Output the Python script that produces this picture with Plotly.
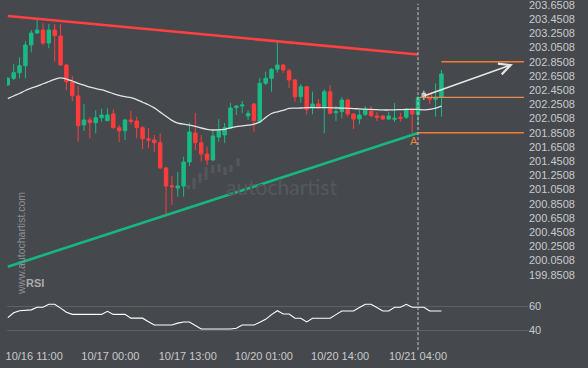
import plotly.graph_objects as go

# ---------------- data ----------------
open_ = [202.523, 202.617, 202.696, 202.794, 203.086, 203.255, 203.297, 203.114, 203.297, 203.213,
         202.804, 202.565, 202.368, 201.959, 202.030, 201.992, 202.062, 202.020, 202.114, 201.921,
         201.879, 202.030, 202.016, 201.921, 201.766, 201.748, 201.710, 201.354, 201.104, 201.072,
         201.100, 201.438, 201.847, 201.710, 201.551, 201.466, 201.790, 201.818, 201.917, 202.203,
         202.227, 202.086, 202.255, 202.006, 202.547, 202.617, 202.744, 202.804, 202.724, 202.593,
         202.358, 202.499, 202.203, 202.255, 202.203, 202.428, 202.132, 202.147, 202.311, 202.114,
         202.044, 202.110, 202.156, 202.086, 202.086, 202.044, 202.039, 202.068, 202.068, 202.180,
         202.110, 202.349, 202.392, 202.321, 202.349]
high = [202.635, 202.814, 202.913, 203.142, 203.297, 203.438, 203.392, 203.382, 203.382, 203.382,
        202.818, 202.649, 202.509, 202.255, 202.072, 202.170, 202.189, 202.194, 202.180, 201.959,
        202.044, 202.156, 202.076, 201.945, 201.913, 201.818, 201.842, 201.368, 201.241, 201.297,
        201.513, 201.994, 202.128, 201.818, 201.654, 201.889, 202.044, 201.987, 202.269, 202.241,
        202.297, 202.170, 202.269, 202.621, 202.710, 202.762, 203.118, 202.818, 202.748, 202.607,
        202.537, 202.509, 202.428, 202.325, 202.462, 202.523, 202.227, 202.349, 202.325, 202.128,
        202.170, 202.227, 202.227, 202.142, 202.100, 202.147, 202.269, 202.132, 202.199, 202.199,
        202.368, 202.442, 202.410, 202.547, 202.734]
low = [202.509, 202.593, 202.617, 202.617, 202.983, 203.241, 203.086, 203.040, 202.851, 202.790,
       202.452, 202.297, 201.724, 201.875, 201.772, 201.842, 202.006, 202.016, 201.910, 201.716,
       201.748, 201.969, 201.772, 201.621, 201.631, 201.583, 201.339, 200.706, 200.832, 200.949,
       200.949, 201.382, 201.607, 201.442, 201.396, 201.452, 201.720, 201.706, 201.903, 202.100,
       202.128, 202.030, 201.865, 201.987, 202.523, 202.428, 202.696, 202.692, 202.480, 202.287,
       202.273, 202.110, 202.110, 202.185, 201.842, 202.114, 202.016, 202.054, 202.076, 201.903,
       201.969, 202.086, 202.072, 202.016, 202.030, 202.030, 202.001, 202.006, 202.044, 201.842,
       201.959, 202.311, 202.255, 202.076, 202.076]
close = [202.617, 202.696, 202.794, 203.086, 203.255, 203.297, 203.114, 203.297, 203.217, 202.804,
         202.569, 202.372, 201.949, 202.030, 201.992, 202.062, 202.100, 202.100, 201.921, 201.879,
         202.030, 202.011, 201.921, 201.766, 201.748, 201.710, 201.354, 201.100, 201.090, 201.100,
         201.438, 201.861, 201.710, 201.551, 201.466, 201.804, 201.889, 201.921, 202.199, 202.227,
         202.241, 202.124, 202.020, 202.547, 202.617, 202.744, 202.804, 202.734, 202.593, 202.358,
         202.499, 202.180, 202.255, 202.203, 202.428, 202.124, 202.147, 202.311, 202.114, 202.044,
         202.100, 202.170, 202.090, 202.068, 202.044, 202.086, 202.054, 202.054, 202.180, 202.114,
         202.344, 202.406, 202.321, 202.349, 202.678]
ma = [202.330, 202.368, 202.403, 202.445, 202.478, 202.506, 202.540, 202.572, 202.603, 202.624,
      202.607, 202.579, 202.547, 202.520, 202.493, 202.473, 202.456, 202.431, 202.402, 202.378,
      202.359, 202.345, 202.318, 202.280, 202.244, 202.200, 202.141, 202.082, 202.025, 201.986,
      201.973, 201.959, 201.940, 201.917, 201.899, 201.889, 201.892, 201.899, 201.920, 201.937,
      201.947, 201.956, 201.973, 202.000, 202.065, 202.121, 202.145, 202.166, 202.192, 202.196,
      202.199, 202.203, 202.203, 202.203, 202.203, 202.203, 202.200, 202.197, 202.194, 202.190,
      202.186, 202.182, 202.179, 202.175, 202.171, 202.171, 202.173, 202.176, 202.179, 202.180,
      202.180, 202.173, 202.178, 202.196, 202.225]
rsi = [50.4, 54.5, 56.3, 56.5, 57.0, 59.2, 59.2, 61.7, 61.7, 58.5,
       55.0, 53.2, 53.2, 53.2, 53.2, 53.2, 53.2, 55.8, 53.2, 53.2,
       53.2, 50.0, 50.0, 50.0, 47.0, 44.2, 44.2, 44.2, 44.2, 45.8,
       46.8, 46.8, 44.0, 40.8, 40.8, 40.8, 40.8, 40.8, 40.8, 41.5,
       44.2, 44.2, 44.2, 46.5, 49.0, 53.0, 56.3, 53.5, 53.5, 49.9,
       49.9, 46.8, 49.9, 49.9, 49.9, 49.9, 53.0, 56.0, 56.0, 56.0,
       59.0, 61.7, 61.7, 59.0, 56.0, 56.0, 59.2, 59.2, 61.7, 59.2,
       59.2, 59.2, 56.0, 56.0, 56.0]

hollow_idx = [71, 72]           # candles drawn as outlines after the pattern
pattern_idx = 70                # candle where the pattern completes (dashed line)
a_idx = 69                      # point "A"
projection_end = 88.1           # end of the forecast levels (candle units)

x_tick_pos = [4.5, 17.5, 30.7, 43.7, 56.7, 70]
x_tick_text = ["10/16 11:00", "10/17 00:00", "10/17 13:00", "10/20 01:00", "10/20 14:00", "10/21 04:00"]
price_ticks = [199.8508, 200.0508, 200.2508, 200.4508, 200.6508, 200.8508, 201.0508, 201.2508,
               201.4508, 201.6508, 201.8508, 202.0508, 202.2508, 202.4508, 202.6508, 202.8508,
               203.0508, 203.2508, 203.4508, 203.6508]
rsi_ticks = [40, 60]

trend_x = [0, 70]
resistance = [203.494, 202.952]
support = [199.964, 201.845]

target_level = 202.8508
entry_level = 202.349
stop_level = 201.8508
forecast_x = [70.6, 86.2]
forecast_y = [202.357, 202.814]

# ---------------- styling ----------------
BG = "#45484d"
GREEN = "#19bb84"
RED = "#ff3c3c"
ORANGE = "#f57b2e"
TXT = "#c9cacc"
FONT = "Liberation Sans, Arial, sans-serif"

idx = list(range(len(open_)))
solid = [i for i in idx if i not in hollow_idx]

fig = go.Figure()

# trend lines
fig.add_trace(go.Scatter(x=trend_x, y=resistance, mode="lines",
                         line=dict(color="#ff4040", width=2.6), hoverinfo="skip"))
fig.add_trace(go.Scatter(x=trend_x, y=support, mode="lines",
                         line=dict(color="#17b880", width=2.6), hoverinfo="skip"))

# candles
fig.add_trace(go.Candlestick(
    x=solid, open=[open_[i] for i in solid], high=[high[i] for i in solid],
    low=[low[i] for i in solid], close=[close[i] for i in solid],
    increasing=dict(line=dict(color=GREEN, width=1), fillcolor=GREEN),
    decreasing=dict(line=dict(color=RED, width=1), fillcolor=RED),
    whiskerwidth=0, hoverinfo="skip"))
fig.add_trace(go.Candlestick(
    x=hollow_idx, open=[open_[i] for i in hollow_idx], high=[high[i] for i in hollow_idx],
    low=[low[i] for i in hollow_idx], close=[close[i] for i in hollow_idx],
    increasing=dict(line=dict(color="#dfe9e3", width=1), fillcolor=BG),
    decreasing=dict(line=dict(color=RED, width=1), fillcolor=BG),
    whiskerwidth=0, hoverinfo="skip"))

# moving average
fig.add_trace(go.Scatter(x=idx, y=ma, mode="lines", line=dict(color="#e4e4e4", width=1.3, shape="spline"),
                         hoverinfo="skip"))

# RSI
fig.add_trace(go.Scatter(x=idx, y=rsi, mode="lines", line=dict(color="#ffffff", width=1.1),
                         xaxis="x", yaxis="y2", hoverinfo="skip"))

shapes = []
# forecast levels
shapes.append(dict(type="line", xref="x", yref="y", x0=len(idx) - 1, x1=projection_end,
                   y0=target_level, y1=target_level, line=dict(color=ORANGE, width=1.5)))
shapes.append(dict(type="line", xref="x", yref="y", x0=pattern_idx + 0.3, x1=projection_end,
                   y0=entry_level, y1=entry_level, line=dict(color="#e98a52", width=1.1)))
shapes.append(dict(type="line", xref="x", yref="y", x0=pattern_idx, x1=projection_end,
                   y0=stop_level, y1=stop_level, line=dict(color=ORANGE, width=1.5)))
# pattern completion dashed line
shapes.append(dict(type="line", xref="x", yref="paper", x0=pattern_idx, x1=pattern_idx,
                   y0=-0.006, y1=0.989, line=dict(color="#c4c6c8", width=1, dash="3px,2px")))

# watermark logo bars (decorative)
W, H = 521.0, 348.0
def px2paper(xp, yp):
    return (xp - 7) / W, (H - yp) / H
logo = [(188.3, 185, 189), (194, 178, 189), (200, 173, 183), (206, 167, 180), (212.7, 165, 173),
        (219, 164, 172), (225, 167, 175), (231, 165, 172), (238, 158, 166)]
for xc, yt, yb in logo:
    x0, y0 = px2paper(xc - 1.6, yb)
    x1, y1 = px2paper(xc + 1.6, yt)
    shapes.append(dict(type="rect", xref="paper", yref="paper", x0=x0, x1=x1, y0=y0, y1=y1,
                       line=dict(width=0), fillcolor="#54575c", layer="below"))

annotations = [
    dict(x=forecast_x[1], y=forecast_y[1], ax=forecast_x[0], ay=forecast_y[0],
         xref="x", yref="y", axref="x", ayref="y", showarrow=True, text="",
         arrowhead=5, arrowsize=1.5, arrowwidth=1.5, arrowcolor="#e6e6e6", standoff=0),
    dict(x=a_idx + 0.4, y=201.734, xref="x", yref="y", text="A", showarrow=False,
         font=dict(family=FONT, size=11, color="#e8823e")),
    dict(x=px2paper(281.5, 0)[0], y=px2paper(0, 186)[1], xref="paper", yref="paper",
         text="autochartist", showarrow=False,
         font=dict(family="Lato, sans-serif", size=21, color="#55585d")),
    dict(x=px2paper(24, 0)[0], y=px2paper(0, 291)[1], xref="paper", yref="paper",
         text="<b>RSI</b>", showarrow=False, font=dict(family=FONT, size=11, color="#a9abae")),
    dict(x=px2paper(12.5, 0)[0], y=px2paper(0, 297)[1], xref="paper", yref="paper",
         text="www.autochartist.com", textangle=-90, showarrow=False,
         font=dict(family=FONT, size=10.5, color="#8f9195")),
]

fig.update_layout(
    template="none",
    width=588, height=368,
    margin=dict(l=7, r=60, t=0, b=20, autoexpand=False),
    paper_bgcolor=BG, plot_bgcolor=BG,
    showlegend=False,
    boxgap=0.16,
    shapes=shapes, annotations=annotations,
    font=dict(family=FONT, size=11, color=TXT),
    xaxis=dict(domain=[0, 1], anchor="y2", range=[-0.14, 88.77], tickmode="array",
               tickvals=x_tick_pos, ticktext=x_tick_text, showgrid=False, zeroline=False,
               showline=False, ticks="", rangeslider=dict(visible=False), automargin=False,
               tickfont=dict(family=FONT, size=11, color=TXT)),
    yaxis=dict(domain=[0.1954, 1], range=[199.7762, 203.7198], side="right", anchor="x",
               tickmode="array", tickvals=price_ticks, tickformat=".4f", showgrid=False,
               zeroline=False, showline=False, ticks="", automargin=False,
               ticklabeloverflow="allow",
               tickfont=dict(family=FONT, size=11, color=TXT)),
    yaxis2=dict(domain=[0, 0.181], range=[24.8, 78], side="right", anchor="x",
                tickmode="array", tickvals=rsi_ticks, showgrid=True, gridcolor="#5d6065",
                gridwidth=1, zeroline=False, showline=False, ticks="", automargin=False,
                tickfont=dict(family=FONT, size=11, color=TXT)),
)

fig.write_html("out.html", config={"displayModeBar": False},
               post_script="document.body.style.margin='0';document.body.style.background='%s';" % BG)
